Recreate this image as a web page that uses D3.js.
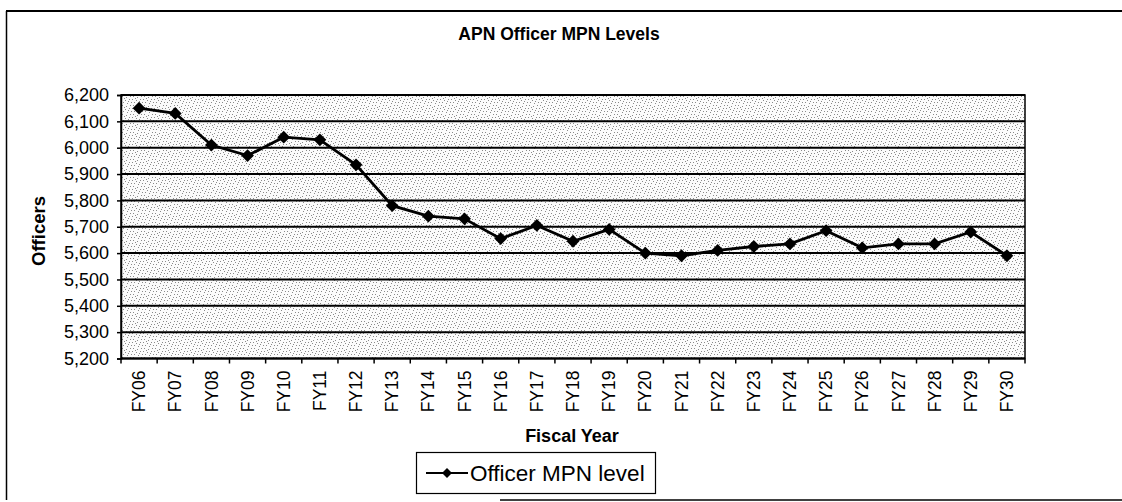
<!DOCTYPE html>
<html><head><meta charset="utf-8">
<script src="https://cdn.jsdelivr.net/npm/d3@7"></script>
<style>
html,body{margin:0;padding:0;background:#fff;}
text{font-family:"Liberation Sans",Arial,sans-serif;fill:#000;}
</style></head>
<body>
<svg id="chart" width="1122" height="502"></svg>
<script>
const categories = ["FY06","FY07","FY08","FY09","FY10","FY11","FY12","FY13","FY14","FY15","FY16","FY17","FY18","FY19","FY20","FY21","FY22","FY23","FY24","FY25","FY26","FY27","FY28","FY29","FY30"];
const officerValues = [6150,6130,6010,5970,6040,6030,5935,5780,5740,5730,5655,5705,5645,5690,5600,5590,5610,5625,5635,5685,5620,5635,5635,5680,5590];
const yTicks = [5200,5300,5400,5500,5600,5700,5800,5900,6000,6100,6200];
const seriesName = "Officer MPN level";
const chartTitle = "APN Officer MPN Levels";
const xTitle = "Fiscal Year";
const yTitle = "Officers";

const svg = d3.select("#chart");
const m = {left:121, right:1025, top:95, bottom:358.5};

// frame
svg.append("line").attr("x1",6).attr("x2",1122).attr("y1",11).attr("y2",11).attr("stroke","#000").attr("stroke-width",2);
svg.append("line").attr("x1",6.5).attr("x2",6.5).attr("y1",11).attr("y2",500).attr("stroke","#000").attr("stroke-width",1.5);
svg.append("line").attr("x1",500).attr("x2",1122).attr("y1",500).attr("y2",500).attr("stroke","#000").attr("stroke-width",1.5);

const x = d3.scaleBand().domain(categories).range([m.left,m.right]);
const y = d3.scaleLinear().domain([5200,6200]).range([m.bottom,m.top]);

// dotted background pattern
const defs = svg.append("defs");
const pat = defs.append("pattern").attr("id","dots").attr("width",11).attr("height",9).attr("patternUnits","userSpaceOnUse");
pat.append("rect").attr("width",11).attr("height",9).attr("fill","#fbfbfb");
[[0,0],[4,1],[8,0],[2,3],[6,4],[10,3],[1,6],[5,7],[9,6],[3,8],[7,2]].forEach(p=>pat.append("rect").attr("x",p[0]).attr("y",p[1]).attr("width",1).attr("height",1).attr("fill","#8a8a8a"));

svg.append("rect").attr("x",m.left).attr("y",m.top).attr("width",m.right-m.left).attr("height",m.bottom-m.top)
  .attr("fill","url(#dots)").attr("stroke","#000").attr("stroke-width",1.5);

// gridlines
svg.append("g").selectAll("line").data(yTicks).join("line")
  .attr("x1",m.left).attr("x2",m.right).attr("y1",d=>y(d)).attr("y2",d=>y(d))
  .attr("stroke","#000").attr("stroke-width",2);

// y axis
const yAxis = svg.append("g").attr("transform",`translate(${m.left},0)`)
  .call(d3.axisLeft(y).tickValues(yTicks).tickFormat(d3.format(",")).tickSize(4).tickPadding(8));
yAxis.select(".domain").attr("stroke","#000").attr("stroke-width",1.5);
yAxis.selectAll(".tick line").attr("stroke","#000").attr("stroke-width",1.5);
yAxis.selectAll("text").attr("font-size","18px").attr("font-family","Liberation Sans, Arial, sans-serif");

// x axis with ticks at band boundaries
const xAxisG = svg.append("g").attr("transform",`translate(0,${m.bottom})`);
xAxisG.append("line").attr("x1",m.left).attr("x2",m.right).attr("y1",0).attr("y2",0).attr("stroke","#000").attr("stroke-width",1.5);
const bounds = categories.map(c=>x(c)).concat([m.right]);
xAxisG.selectAll("line.t").data(bounds).join("line").attr("class","t")
  .attr("x1",d=>d).attr("x2",d=>d).attr("y1",0).attr("y2",5).attr("stroke","#000").attr("stroke-width",1.5);
xAxisG.selectAll("text").data(categories).join("text")
  .attr("transform",d=>`translate(${x(d)+x.bandwidth()/2},12) rotate(-90)`)
  .attr("text-anchor","end").attr("dy","0.35em").attr("font-size","17.5px").text(d=>d);

// line
const line = d3.line().x((d,i)=>x(categories[i])+x.bandwidth()/2).y(d=>y(d));
svg.append("path").datum(officerValues).attr("d",line).attr("fill","none").attr("stroke","#000").attr("stroke-width",2.8);
const diamond = d3.symbol().type(d3.symbolSquare).size(82);
svg.append("g").selectAll("path").data(officerValues).join("path")
  .attr("d",diamond).attr("fill","#000")
  .attr("transform",(d,i)=>`translate(${x(categories[i])+x.bandwidth()/2},${y(d)}) rotate(45)`);

// titles
svg.append("text").attr("x",559).attr("y",40).attr("text-anchor","middle").attr("font-weight","bold").attr("font-size","17.5px").text(chartTitle);
svg.append("text").attr("transform","translate(45,231) rotate(-90)").attr("text-anchor","middle").attr("font-weight","bold").attr("font-size","18.5px").text(yTitle);
svg.append("text").attr("x",572).attr("y",442).attr("text-anchor","middle").attr("font-weight","bold").attr("font-size","18px").text(xTitle);

// legend
const lg = svg.append("g");
lg.append("rect").attr("x",416.5).attr("y",452.5).attr("width",239).attr("height",41).attr("fill","#fff").attr("stroke","#000").attr("stroke-width",1.2);
lg.append("line").attr("x1",426).attr("x2",468).attr("y1",473).attr("y2",473).attr("stroke","#000").attr("stroke-width",2);
lg.append("path").attr("d",d3.symbol().type(d3.symbolSquare).size(50)).attr("fill","#000").attr("transform","translate(447,473) rotate(45)");
lg.append("text").attr("x",470).attr("y",481).attr("font-size","22.5px").text(seriesName);
</script>
</body></html>
